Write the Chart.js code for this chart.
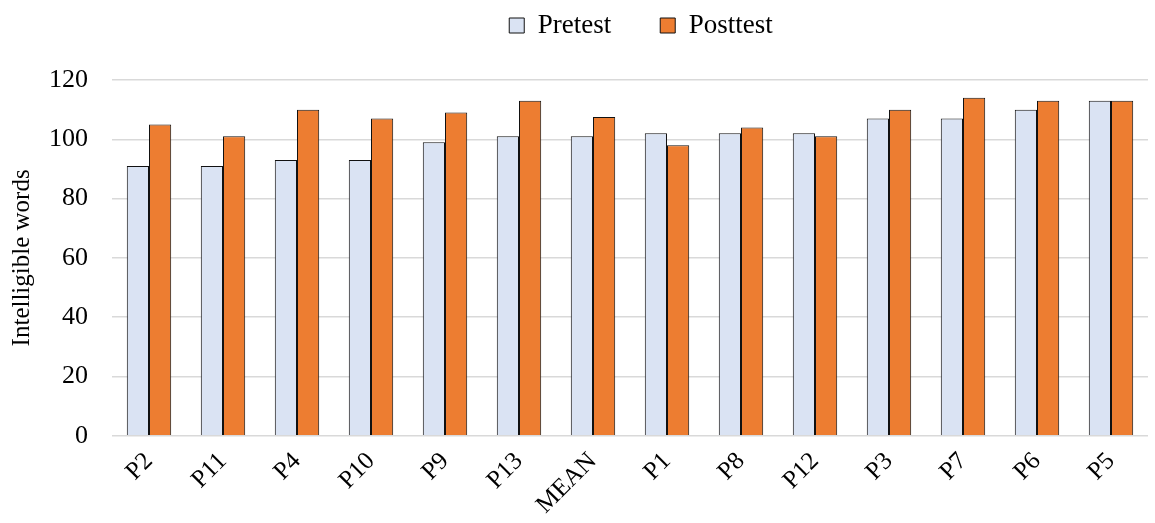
<!DOCTYPE html>
<html>
<head>
<meta charset="utf-8">
<script src="https://cdn.jsdelivr.net/npm/chart.js@4.4.0/dist/chart.umd.min.js"></script>
<style>
  html, body { margin: 0; padding: 0; background: #fff; }
  #wrap { width: 1155px; height: 523px; position: relative; }
</style>
</head>
<body>
<div id="wrap"><canvas id="chart"></canvas></div>
<script>
// Participantes y valores
const categories = ['P2', 'P11', 'P4', 'P10', 'P9', 'P13', 'MEAN', 'P1', 'P8', 'P12', 'P3', 'P7', 'P6', 'P5'];
const pretest = [91, 91, 93, 93, 99, 101, 101, 102, 102, 102, 107, 107, 110, 113];
const posttest = [105, 101, 110, 107, 109, 113, 107.5, 98, 104, 101, 110, 114, 113, 113];
const yTicks = [0, 20, 40, 60, 80, 100, 120];

const serif = 'Liberation Serif';
const LEGEND_GAP = 49;
const LEGEND_HEIGHT = 117;
const LEGEND_SHIFT = 67;

// Leyenda: altura fija y centrada sobre el área del gráfico
const legendLayout = {
    id: 'legendLayout',
    beforeInit(chart) {
        const fit = chart.legend.fit;
        chart.legend.fit = function () {
            fit.call(this);
            this.height = LEGEND_HEIGHT;
        };
    },
    afterLayout(chart) {
        chart.legend.left += LEGEND_SHIFT;
        chart.legend.right += LEGEND_SHIFT;
    }
};

const ctx = document.getElementById('chart').getContext('2d');
new Chart(ctx, {
    type: 'bar',
    data: {
        labels: categories,
        datasets: [
            {
                label: 'Pretest',
                data: pretest,
                backgroundColor: '#dae3f3',
                borderColor: '#111111',
                borderWidth: 1
            },
            {
                label: 'Posttest',
                data: posttest,
                backgroundColor: '#ed7d31',
                borderColor: '#111111',
                borderWidth: 1
            }
        ]
    },
    plugins: [legendLayout],
    options: {
        responsive: true,
        maintainAspectRatio: false,
        animation: false,
        layout: {
            padding: { top: -37, right: 7, left: 0, bottom: 0 }
        },
        datasets: {
            bar: {
                categoryPercentage: 0.6,
                barPercentage: 1.0
            }
        },
        plugins: {
            legend: {
                position: 'top',
                labels: {
                    color: '#000',
                    font: { family: serif, size: 27 },
                    boxWidth: 15,
                    boxHeight: 15,
                    padding: LEGEND_GAP
                }
            },
            tooltip: { enabled: false }
        },
        scales: {
            x: {
                grid: { display: false },
                border: { display: false },
                ticks: {
                    color: '#000',
                    font: { family: serif, size: 25 },
                    minRotation: 45,
                    maxRotation: 45
                }
            },
            y: {
                min: 0,
                max: 120,
                afterBuildTicks: (axis) => {
                    axis.ticks = yTicks.map(v => ({ value: v }));
                },
                grid: { color: '#d9d9d9', lineWidth: 1.5, drawTicks: false },
                border: { display: false },
                ticks: {
                    color: '#000',
                    font: { family: serif, size: 26 },
                    padding: 24
                },
                title: {
                    display: true,
                    text: 'Intelligible words',
                    color: '#000',
                    font: { family: serif, size: 25, lineHeight: 1.0 },
                    padding: { top: 10, bottom: -10 }
                }
            }
        }
    }
});
</script>
</body>
</html>
